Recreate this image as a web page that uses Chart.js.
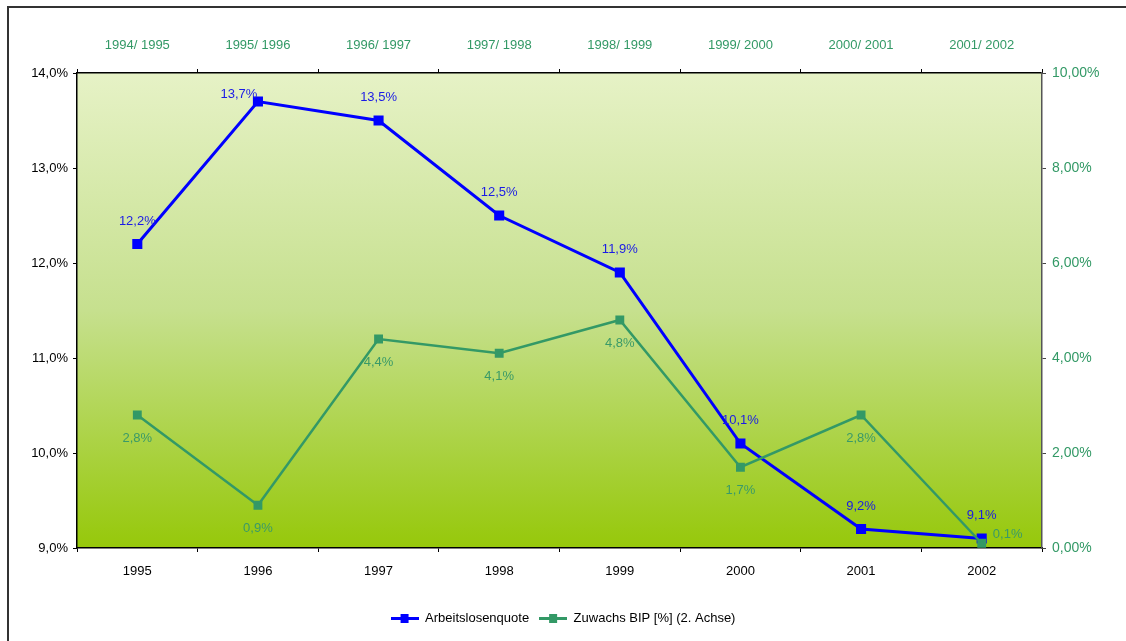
<!DOCTYPE html>
<html>
<head>
<meta charset="utf-8">
<script src="https://cdn.jsdelivr.net/npm/chart.js@4.4.1/dist/chart.umd.min.js"></script>
<style>
  html, body { margin: 0; padding: 0; background: #fff; overflow: hidden; }
  #frame { position: absolute; left: 7px; top: 6px; width: 1300px; height: 800px; border: 2px solid #333; }
  #wrap { position: absolute; left: 0; top: 0; width: 1126px; height: 641px; }
</style>
</head>
<body>
<div id="frame"></div>
<div id="wrap"><canvas id="c" width="1126" height="641"></canvas></div>
<script>
// Data
const years = ['1995', '1996', '1997', '1998', '1999', '2000', '2001', '2002'];
const topLabels = ['1994/ 1995', '1995/ 1996', '1996/ 1997', '1997/ 1998', '1998/ 1999', '1999/ 2000', '2000/ 2001', '2001/ 2002'];
const arbeitslosenquote = [12.2, 13.7, 13.5, 12.5, 11.9, 10.1, 9.2, 9.1];
const zuwachsBIP = [2.8, 0.9, 4.4, 4.1, 4.8, 1.7, 2.8, 0.1];

const FONT = "'Liberation Sans Narrow', 'Arial Narrow', 'Liberation Sans', Arial, sans-serif";
const BLUE = '#0000ff';
const GREEN = '#339966';

// Legend marker: line with a square in the middle
function legendMarker(color, lw) {
    const cv = document.createElement('canvas');
    cv.width = 28; cv.height = 9;
    const g = cv.getContext('2d');
    g.fillStyle = color;
    g.fillRect(0, 4.5 - lw / 2, 28, lw);
    g.fillRect(10, 0, 8, 9);
    return cv;
}

const gradientPlugin = {
    id: 'plotGradient',
    beforeDraw: (chart) => {
        const {ctx, chartArea} = chart;
        if (!chartArea) return;
        const grad = ctx.createLinearGradient(0, chartArea.top, 0, chartArea.bottom);
        grad.addColorStop(0, '#e6f2c6');
        grad.addColorStop(0.5, '#c6e08e');
        grad.addColorStop(1, '#96c80a');
        ctx.save();
        ctx.fillStyle = grad;
        ctx.fillRect(chartArea.left, chartArea.top, chartArea.right - chartArea.left, chartArea.bottom - chartArea.top);
        ctx.restore();
    }
};

// Value labels, comma as decimal separator
const valueLabelPlugin = {
    id: 'valueLabels',
    afterDatasetsDraw: (chart) => {
        const {ctx} = chart;
        ctx.save();
        ctx.font = '13px ' + FONT;
        ctx.textAlign = 'center';
        ctx.textBaseline = 'middle';
        chart.data.datasets.forEach((ds, di) => {
            const meta = chart.getDatasetMeta(di);
            meta.data.forEach((el, i) => {
                const text = ds.data[i].toFixed(1).replace('.', ',') + '%';
                let dx = 0, dy;
                if (di === 0) {
                    dy = -23;
                    if (i === 1) { dx = -19; dy = -7; }
                } else {
                    dy = 23;
                    if (i === 7) { dx = 26; dy = -9; }
                }
                ctx.fillStyle = di === 0 ? '#1a1ae6' : '#3a9a68';
                ctx.fillText(text, el.x + dx, el.y + dy);
            });
        });
        ctx.restore();
    }
};

new Chart(document.getElementById('c'), {
    type: 'line',
    data: {
        labels: years,
        datasets: [{
            label: 'Arbeitslosenquote',
            data: arbeitslosenquote,
            yAxisID: 'y',
            borderColor: BLUE,
            backgroundColor: BLUE,
            borderWidth: 3,
            pointStyle: 'rect',
            pointRadius: 5,
            tension: 0,
            order: 1
        }, {
            label: 'Zuwachs BIP [%] (2. Achse)',
            data: zuwachsBIP,
            yAxisID: 'y2',
            borderColor: GREEN,
            backgroundColor: GREEN,
            borderWidth: 2.5,
            pointStyle: 'rect',
            pointRadius: 4.5,
            tension: 0,
            order: 0
        }]
    },
    options: {
        responsive: false,
        animation: false,
        layout: { padding: { top: 0, left: 0, right: 0, bottom: 6 } },
        scales: {
            x: {
                position: 'bottom',
                offset: true,
                grid: { offset: true, drawOnChartArea: false, drawTicks: true, tickLength: 4, color: '#000' },
                border: { display: true, color: '#000', width: 1.5 },
                ticks: { color: '#000', font: { family: FONT, size: 13 }, padding: 12, maxRotation: 0 },
                afterFit: (s) => { s.height = 54; }
            },
            xTop: {
                type: 'category',
                position: 'top',
                labels: topLabels,
                offset: true,
                grid: { offset: true, drawOnChartArea: false, drawTicks: true, tickLength: 4, color: '#000' },
                border: { display: true, color: '#000', width: 1.5 },
                ticks: { color: GREEN, font: { family: FONT, size: 13 }, padding: 16, maxRotation: 0 },
                afterFit: (s) => { s.height = 73; }
            },
            y: {
                position: 'left',
                min: 9,
                max: 14,
                grid: { drawOnChartArea: false, drawTicks: true, tickLength: 4, color: '#000' },
                border: { display: true, color: '#000', width: 1.5 },
                ticks: {
                    stepSize: 1,
                    color: '#000',
                    font: { family: FONT, size: 13 },
                    padding: 5,
                    callback: (v) => v.toFixed(1).replace('.', ',') + '%'
                },
                afterFit: (s) => { s.width = 77; }
            },
            y2: {
                position: 'right',
                min: 0,
                max: 10,
                grid: { drawOnChartArea: false, drawTicks: true, tickLength: 4, color: '#444' },
                border: { display: true, color: '#555', width: 1.5 },
                ticks: {
                    stepSize: 2,
                    color: GREEN,
                    font: { family: FONT, size: 14 },
                    padding: 6,
                    callback: (v) => v.toFixed(2).replace('.', ',') + '%'
                },
                afterFit: (s) => { s.width = 84; }
            }
        },
        plugins: {
            legend: {
                position: 'bottom',
                labels: {
                    color: '#000',
                    font: { family: FONT, size: 13 },
                    usePointStyle: true,
                    pointStyleWidth: 28,
                    padding: 10,
                    boxHeight: 9,
                    generateLabels: (chart) => [
                        { text: 'Arbeitslosenquote', pointStyle: legendMarker(BLUE, 3), fillStyle: BLUE, strokeStyle: BLUE, lineWidth: 0, datasetIndex: 0, fontColor: '#000' },
                        { text: 'Zuwachs BIP [%] (2. Achse)', pointStyle: legendMarker(GREEN, 3), fillStyle: GREEN, strokeStyle: GREEN, lineWidth: 0, datasetIndex: 1, fontColor: '#000' }
                    ]
                }
            },
            tooltip: { enabled: false }
        }
    },
    plugins: [gradientPlugin, valueLabelPlugin]
});
</script>
</body>
</html>
